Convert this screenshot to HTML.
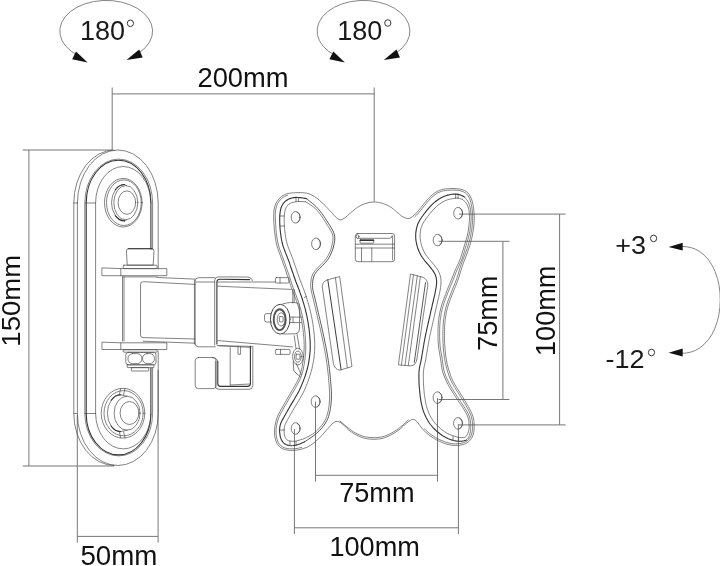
<!DOCTYPE html>
<html><head><meta charset="utf-8">
<style>
html,body{margin:0;padding:0;background:#fff;}
body{width:720px;height:566px;overflow:hidden;}
svg{display:block;will-change:transform;}
text{font-family:"Liberation Sans",sans-serif;fill:#111;}
.dim{stroke:#777;stroke-width:1;fill:none;}
.ln{stroke:#484848;stroke-width:0.68;fill:none;stroke-linecap:round;stroke-linejoin:round;}
.tk{stroke:#333;stroke-width:1.1;fill:none;stroke-linecap:round;stroke-linejoin:round;}
.arc{stroke:#777;stroke-width:0.9;fill:none;}
.lt{fill:#1a1a1a;}
</style></head><body>
<svg width="720" height="566" viewBox="0 0 720 566">
<rect width="720" height="566" fill="#fff"/>

<!-- DIMENSIONS -->
<g class="dim" id="dims">
<path d="M112.2 87.5V150"/><path d="M374.2 87.5V201.6"/><path d="M112.2 93.9H374.2"/>
<path d="M22.7 150H112"/><path d="M22.7 466H114"/><path d="M28.9 150V466"/>
<path d="M77.3 415V542.6"/><path d="M158.1 370V542.6"/><path d="M77.3 536.4H158.1"/>
<path d="M315.5 401.6V481.6"/><path d="M437.5 398V481.6"/><path d="M315.5 475.3H437.5"/>
<path d="M294.4 429V534"/><path d="M458.4 424V534"/><path d="M294.4 527.8H458.4"/>
<path d="M438.5 241.3H509.4"/><path d="M438.5 399.5H509.4"/><path d="M502.9 241.3V399.5"/>
<path d="M459 214.1H565.6"/><path d="M459 424.9H565.6"/><path d="M559.6 214.1V424.9"/>
</g>

<!-- TEXT -->
<g id="labels">
<text transform="translate(243,86.6) scale(1.02,1)" font-size="26.8" text-anchor="middle">200mm</text>
<text transform="translate(118.9,565.3) scale(1.035,1)" font-size="26.8" text-anchor="middle">50mm</text>
<text transform="translate(376.8,502.4) scale(1.012,1)" font-size="26.8" text-anchor="middle">75mm</text>
<text transform="translate(374.6,556.0) scale(1.012,1)" font-size="26.8" text-anchor="middle">100mm</text>
<text transform="translate(20.3,300.8) rotate(-90) scale(1.05,1)" font-size="26.2" text-anchor="middle">150mm</text>
<text transform="translate(496.5,313.3) rotate(-90) scale(0.985,1)" font-size="27.5" text-anchor="middle">75mm</text>
<text transform="translate(555.4,310.8) rotate(-90) scale(0.988,1)" font-size="27.5" text-anchor="middle">100mm</text>
<text class="lt" transform="translate(80.0,39.9) scale(0.965,1)" font-size="28">180</text>
<text class="lt" transform="translate(337.2,39.9) scale(0.965,1)" font-size="28">180</text>
<text class="lt" transform="translate(615.2,253.9) scale(1.08,1)" font-size="25">+3</text>
<text class="lt" transform="translate(605.4,367.8) scale(1.08,1)" font-size="25">-12</text>
</g>
<g fill="none" stroke="#222" stroke-width="0.9">
<ellipse cx="130.4" cy="23.3" rx="3.1" ry="3.3"/>
<ellipse cx="387.8" cy="23.0" rx="3.1" ry="3.3"/>
<ellipse cx="653.6" cy="238.4" rx="3.1" ry="3.3"/>
<ellipse cx="651.5" cy="352.5" rx="3.1" ry="3.3"/>
</g>

<!-- ROTATION ARROWS -->
<g id="rot">
<path class="arc" d="M78 55.5 A46.4 30.7 0 1 1 139.5 52.5"/>
<path d="M76 51.5L72.1 59.3L87.6 62.6Z" fill="#111"/>
<path d="M139.2 49.6L142.7 57.4L126.5 59.9Z" fill="#111"/>
<g transform="translate(257.3,0)">
<path class="arc" d="M78 55.5 A46.4 30.7 0 1 1 139.5 52.5"/>
<path d="M76 51.5L72.1 59.3L87.6 62.6Z" fill="#111"/>
<path d="M139.2 49.6L142.7 57.4L126.5 59.9Z" fill="#111"/>
</g>
<path class="arc" d="M682 246.5 C733 246 733 353 682 353.3"/>
<path d="M668.6 246.9L682.7 242.7L682.7 250.6Z" fill="#111"/>
<path d="M668.6 352.8L682.7 348.6L682.7 356.5Z" fill="#111"/>
</g>

<!-- MOUNT -->
<g id="mount">
<path class="ln" d="M114.2 150 A40.4 53 0 0 0 73.8 203.0 V413.5 A40.4 52 0 0 0 114.2 465.5"/>
<path class="ln" d="M77.4 203.0 A40.4 53 0 0 1 158.2 203.0 V269"/>
<path class="ln" d="M77.4 203.0 V413.5 A40.4 52 0 0 0 158.2 413.5 V351"/>
<path class="ln" d="M73.8 203.0 H77.4 M85.5 203.0 H95.6 M73.8 413.5 H77.4 M85.5 413.5 H95.6"/>
<path class="ln" d="M84.8 413.5 V203.0 A33.9 43.9 0 0 1 152.6 203.0 V249"/>
<path class="tk" d="M86.2 413.5 V203.0 A32.35 42.8 0 0 1 150.9 203.0 V249"/>
<path class="ln" d="M84.8 413.5 A33.9 42.4 0 0 0 152.6 413.5 V368"/>
<path class="tk" d="M86.2 413.5 A32.35 41.4 0 0 0 150.9 413.5 V368"/>
<path class="ln" d="M95.6 413.5 V203.0 A27.65 36.5 0 0 1 150.9 203.0"/>
<path class="ln" d="M95.6 413.5 A27.65 35.4 0 0 0 150.9 413.5"/>
<ellipse class="ln" cx="123.3" cy="202.7" rx="18.8" ry="24.3"/>
<ellipse class="ln" cx="123.9" cy="202.7" rx="17.4" ry="22.8"/>
<path class="ln" d="M124.5 184.5 A13 18.2 0 0 0 124.5 220.9"/>
<path class="ln" d="M124.5 184.5 L126.5 185.6 M124.5 220.9 L126.5 219.8"/>
<ellipse class="ln" cx="125.8" cy="202.7" rx="12.0" ry="17.1"/>
<path class="tk" d="M124.5 184.5 A13 18.2 0 0 0 115.3 189.8"/>
<path class="tk" d="M124.5 220.9 A13 18.2 0 0 1 115.3 215.6"/>
<ellipse class="ln" cx="126.9" cy="202.6" rx="8.8" ry="11.7"/>
<ellipse class="ln" cx="123.0" cy="413.2" rx="21.8" ry="24.9"/>
<ellipse class="ln" cx="123.6" cy="413.2" rx="19.6" ry="22.6"/>
<path class="ln" d="M120.4 394.8 A13 18.4 0 0 0 120.4 431.6"/>
<path class="ln" d="M120.4 394.8 L127.1 396.2 M120.4 431.6 L127.1 430.2"/>
<ellipse class="ln" cx="127.1" cy="413.2" rx="13.0" ry="17.0"/>
<path class="tk" d="M120.4 394.8 A13 18.4 0 0 0 111.2 400.2"/>
<path class="tk" d="M120.4 431.6 A13 18.4 0 0 1 111.2 426.2"/>
<ellipse class="ln" cx="129.5" cy="413.0" rx="9.4" ry="11.5"/>
<path class="ln" d="M120.6 388.6 L119.4 394.8 M125 388.4 L123.6 394.6 M119.4 431.8 L120.6 437.8 M123.6 431.8 L125 437.9"/>
<path class="ln" d="M127.2 264.7 L126.4 251 Q126.4 248.6 129 248.6 H151.4 Q154 248.6 154 251 L153.2 264.7 Z" fill="#fff"/>
<path class="tk" d="M128.5 248.7 H152"/>
<rect class="ln" x="123.2" y="265.2" width="33.9" height="3.4" rx="0.8" fill="#fff"/>
<path class="ln" d="M102.3 267.9 L120.8 268.6 H166.8 V275.7 H102.3 Z" fill="#fff"/>
<path class="ln" d="M120.8 268.6 V275.7"/>
<path class="ln" d="M122.5 276.9 H157.1"/>
<path class="ln" d="M122.5 276.9 V341 M124 276.9 V341"/>
<path class="ln" d="M195 284.4 L143.5 281.7 Q140.5 281.5 140.5 284.5 V335 Q140.5 337.5 143 337.6 L195 339"/>
<path class="ln" d="M157.1 277.5 L195 279.1"/>
<path class="ln" d="M143 341.2 L195 343.2"/>
<path class="ln" d="M102.3 342.2 L120.8 342.8 H166.8 V349.5 H102.3 Z" fill="#fff"/>
<path class="ln" d="M120.8 342.8 V349.5"/>
<rect class="ln" x="123.2" y="349.8" width="33.9" height="2.4" rx="0.8" fill="#fff"/>
<rect class="ln" x="125.8" y="352.4" width="30.2" height="12.4" rx="2.5"/>
<rect class="ln" x="128.0" y="353.6" width="13.8" height="10.0" rx="4.5"/>
<rect class="ln" x="142.6" y="353.6" width="11.8" height="10.0" rx="4.5"/>
<rect class="ln" x="127.2" y="364.8" width="26.8" height="2.8" rx="0.5"/>
<rect class="ln" x="131.4" y="367.6" width="17.3" height="3.4" rx="0.5"/>
<path class="ln" d="M214.7 277.7 H199 Q195.2 277.7 195.2 281 V343.5 Q195.2 346.6 198.5 346.8 H215.4"/>
<path class="ln" d="M196.4 282 H214.7"/>
<path class="ln" d="M194.4 280 V344"/>
<path class="ln" d="M214.7 345 V280.5 Q214.7 277 218 276.9 L247 277 Q251.8 277.2 252.3 280.6"/>
<path class="tk" d="M216.9 344 V282 Q216.9 279.2 220 279.2 L249.5 279.6"/>
<path class="ln" d="M217.5 282 H275.4"/>
<path class="ln" d="M217.5 286.2 L291 289.4"/>
<path class="ln" d="M218.2 340.6 L292.5 346.9"/>
<path class="ln" d="M217.2 345.6 L251.4 346.4"/>
<rect class="ln" x="275.4" y="277.6" width="13.5" height="5.4" rx="1.0"/>
<path class="ln" d="M280 277.6 V283"/>
<rect class="ln" x="275.4" y="349.4" width="14.6" height="5.0" rx="1.0"/>
<path class="ln" d="M280.5 349.4 V354.4"/>
<rect class="ln" x="195.2" y="357.5" width="21.0" height="31.1" rx="3.2"/>
<path class="ln" d="M252.8 346.2 V385.5 Q252.8 389.3 249 389.3 H219 Q215.4 389.3 215.4 386 V361"/>
<path class="tk" d="M250.4 346.2 V383.5 Q250.4 386.4 247.5 386.4 H220.5 Q217.8 386.4 217.8 383.8 V361.5"/>
<path class="ln" d="M230.2 347.6 V385"/>
<path class="ln" d="M230.2 385 L250 384"/>
<path class="ln" d="M238 346.3 V354.2 H240.6 V346.6"/>
<path class="ln" d="M212.5 357.6 Q217.6 357.8 217.8 362"/>
<path class="ln" d="M219 345.8 L251 347.4"/>
<path class="ln" d="M292.8 289.5 V303 M294.2 289.6 V302.6"/>
<ellipse class="ln" cx="280.2" cy="319.2" rx="9.8" ry="14.9" fill="#fff" style="stroke-width:1"/>
<path class="ln" d="M282.6 303.9 Q291 301.5 297.6 303 Q299.5 304 299.5 308 V329 Q299.5 333 296 333.8 L283 334"/>
<ellipse class="ln" cx="279.7" cy="319.7" rx="6.0" ry="10.4" style="stroke:#555;stroke-width:1.9"/>
<ellipse class="ln" cx="281.2" cy="319.4" rx="4.0" ry="6.6"/>
<rect class="ln" x="279.4" y="316.6" width="3.7" height="5.2" rx="0.6"/>
<path class="ln" d="M271.4 313.6 H266.5 Q264.5 313.6 264.5 315.8 V319.8 Q264.5 322 266.5 322 H271.6"/>
<path class="ln" d="M289.8 317.1 H301.5 M289.6 322.6 H301.5 M293 317.1 V322.6"/>
<ellipse class="ln" cx="297.9" cy="356.6" rx="5.3" ry="8.4" fill="#fff"/>
<ellipse class="ln" cx="297.9" cy="356.6" rx="3.4" ry="5.6"/>
<rect class="ln" x="296.1" y="354.2" width="3.8" height="5.0" rx="0.5"/>
<path class="ln" d="M294.2 335.8 L296 348.6 M297 334 L299.6 349"/>
<path class="ln" d="M293.2 361.4 L293.8 371 L300.5 377 M296 363 L301.5 375"/>
<path class="ln" d="M340.6 219.9 L342.2 219.4 L344.1 218.4 L345.8 217.2 L347.3 215.8 L348.9 214.4 L350.6 212.9 L352.2 211.5 L353.9 210.1 L355.6 208.7 L357.4 207.4 L359.2 206.3 L361.0 205.3 L362.9 204.5 L364.8 203.7 L366.8 203.1 L368.9 202.6 L371.0 202.2 L373.1 202.0 L375.3 202.0 L377.4 202.2 L379.5 202.6 L381.6 203.1 L383.6 203.7 L385.5 204.5 L387.4 205.3 L389.3 206.3 L391.2 207.4 L392.9 208.7 L394.7 210.2 L396.3 211.6 L398.0 213.0 L399.8 214.5 L401.6 216.0 L403.6 217.2 L405.8 218.1 L407.9 218.5 L410.1 218.1 L412.2 216.9 L413.8 215.5 L415.4 213.9 L416.9 212.3 L418.3 210.7 L419.6 209.1 L420.9 207.5 L422.2 205.9 L423.5 204.3 L424.8 202.7 L426.2 201.0 L427.6 199.4 L429.1 197.8 L430.6 196.3 L432.2 194.9 L433.9 193.5 L435.7 192.3 L437.5 191.2 L439.4 190.4 L441.3 189.7 L443.4 189.2 L445.4 188.9 L447.6 188.7 L449.7 188.6 L451.9 188.5 L454.1 188.5 L456.3 188.6 L458.4 188.8 L460.5 189.2 L462.6 189.7 L464.5 190.5 L466.3 191.6 L467.8 192.8 L469.1 194.4 L470.1 196.1 L471.0 198.0 L471.8 199.9 L472.4 202.0 L472.9 204.1 L473.3 206.2 L473.6 208.3 L473.8 210.4 L474.0 212.5 L474.2 214.6 L474.2 216.6 L474.3 218.7 L474.2 220.7 L474.1 222.7 L473.9 224.8 L473.7 226.8 L473.4 228.9 L473.1 230.9 L472.8 233.0 L472.4 235.0 L472.0 237.1 L471.5 239.2 L471.0 241.2 L470.5 243.2 L469.9 245.2 L469.2 247.2 L468.6 249.1 L467.9 251.1 L467.2 253.0 L466.5 255.0 L465.7 256.9 L465.0 258.9 L464.2 260.9 L463.5 262.9 L462.8 264.9 L462.1 266.9 L461.4 268.9 L460.8 270.9 L460.2 272.9 L459.6 274.9 L459.0 276.9 L458.3 278.9 L457.6 280.8 L456.9 282.7 L456.2 284.6 L455.4 286.5 L454.6 288.4 L453.8 290.3 L453.1 292.2 L452.3 294.1 L451.6 296.0 L450.9 297.9 L450.1 299.8 L449.4 301.7 L448.8 303.6 L448.2 305.5 L447.6 307.4 L447.1 309.3 L446.6 311.3 L446.2 313.3 L445.9 315.4 L445.5 317.4 L445.3 319.4 L445.0 321.4 L444.9 323.4 L444.7 325.5 L444.6 327.5 L444.6 329.6 L444.5 331.6 L444.5 333.6 L444.5 335.6 L444.5 337.7 L444.5 339.7 L444.6 341.7 L444.7 343.8 L444.8 345.8 L444.9 347.8 L445.1 349.8 L445.3 351.9 L445.5 354.0 L445.8 356.0 L446.1 358.1 L446.5 360.1 L446.8 362.1 L447.2 364.1 L447.7 366.0 L448.2 368.0 L448.8 369.9 L449.4 371.8 L450.0 373.6 L450.6 375.5 L451.3 377.4 L452.2 379.3 L453.0 381.2 L454.0 383.0 L455.0 384.8 L456.1 386.6 L457.2 388.4 L458.4 390.2 L459.6 392.1 L460.7 393.9 L461.9 395.8 L463.0 397.6 L464.1 399.4 L465.3 401.3 L466.3 403.1 L467.4 404.9 L468.4 406.6 L469.4 408.5 L470.4 410.4 L471.3 412.3 L472.1 414.2 L472.8 416.2 L473.4 418.1 L473.8 420.2 L474.0 422.3 L474.2 424.4 L474.2 426.4 L474.2 428.5 L474.0 430.7 L473.6 432.8 L473.1 434.8 L472.3 436.8 L471.4 438.5 L470.2 440.1 L468.8 441.5 L467.2 442.7 L465.5 443.7 L463.6 444.4 L461.6 444.9 L459.6 445.2 L457.5 445.4 L455.4 445.5 L453.2 445.3 L451.0 445.1 L448.8 444.7 L446.7 444.1 L444.6 443.5 L442.6 442.7 L440.6 441.8 L438.6 440.9 L436.7 439.9 L434.7 438.8 L432.8 437.7 L431.0 436.4 L429.2 435.2 L427.6 433.9 L426.0 432.6 L424.6 431.2 L423.2 429.7 L421.8 428.1 L420.5 426.4 L419.2 424.6 L418.0 422.9 L416.6 421.3 L415.0 420.0 L413.2 419.3 L411.7 419.5 L410.1 420.6 L408.2 421.9 L406.4 423.2 L404.9 424.6 L403.4 426.1 L401.8 427.5 L400.2 428.9 L398.6 430.1 L396.9 431.3 L395.1 432.5 L393.3 433.6 L391.6 434.6 L389.8 435.5 L388.0 436.4 L386.1 437.2 L384.2 437.9 L382.2 438.4 L380.3 438.8 L378.2 439.0 L376.2 439.2 L374.1 439.3 L372.0 439.2 L369.8 439.1 L367.6 438.8 L365.4 438.4 L363.2 437.9 L361.1 437.2 L359.1 436.3 L357.1 435.4 L355.1 434.4 L353.3 433.3 L351.6 432.1 L349.9 430.9 L348.3 429.6 L346.7 428.2 L345.1 426.6 L343.5 425.0 L342.0 423.5 L340.0 422.3 L337.8 421.4 L336.0 421.4 L334.2 422.3 L332.6 423.5 L331.2 424.9 L329.8 426.5 L328.4 428.1 L327.0 429.6 L325.6 431.2 L324.2 432.8 L322.8 434.4 L321.4 435.9 L319.9 437.4 L318.4 438.9 L316.8 440.3 L315.3 441.7 L313.7 443.0 L312.1 444.2 L310.4 445.4 L308.7 446.4 L306.9 447.3 L305.0 448.0 L303.1 448.6 L301.1 449.2 L299.1 449.7 L297.0 450.0 L294.9 450.3 L292.9 450.4 L290.8 450.4 L288.7 450.3 L286.7 450.0 L284.8 449.6 L282.8 448.8 L281.0 447.8 L279.3 446.5 L277.9 444.9 L276.8 443.1 L276.0 441.2 L275.4 439.2 L274.9 437.1 L274.6 435.1 L274.5 433.2 L274.5 431.2 L274.6 429.1 L274.8 427.1 L275.1 425.1 L275.5 423.1 L276.0 421.0 L276.6 418.9 L277.4 416.9 L278.2 415.0 L279.1 413.2 L280.0 411.5 L280.9 409.8 L282.0 408.0 L283.0 406.1 L284.1 404.3 L285.1 402.5 L286.2 400.7 L287.2 398.8 L288.3 397.0 L289.4 395.1 L290.5 393.1 L291.6 391.2 L292.7 389.3 L293.8 387.5 L294.8 385.7 L295.7 384.1 L296.7 382.4 L297.6 380.7 L298.4 379.0 L299.1 377.4 L299.7 375.6 L300.3 373.8 L300.9 371.8 L301.5 369.7 L302.0 367.5 L302.4 365.3 L302.7 363.3 L303.0 361.3 L303.3 359.4 L303.5 357.4 L303.7 355.3 L303.9 353.2 L304.0 351.1 L304.1 349.0 L304.2 347.0 L304.2 344.9 L304.1 342.8 L304.0 340.7 L303.9 338.6 L303.7 336.5 L303.5 334.4 L303.3 332.3 L303.1 330.3 L302.8 328.2 L302.5 326.2 L302.2 324.1 L301.9 322.1 L301.6 320.2 L301.2 318.2 L300.8 316.3 L300.3 314.3 L299.9 312.3 L299.3 310.2 L298.8 308.2 L298.2 306.2 L297.6 304.3 L297.0 302.4 L296.3 300.5 L295.6 298.5 L294.9 296.6 L294.1 294.7 L293.3 292.9 L292.6 291.0 L291.9 289.2 L291.3 287.3 L290.7 285.5 L290.1 283.6 L289.5 281.7 L288.8 279.7 L288.2 277.7 L287.5 275.8 L286.8 273.9 L286.2 272.0 L285.5 269.9 L284.8 267.9 L284.1 265.9 L283.3 263.9 L282.7 261.9 L282.0 259.9 L281.2 258.0 L280.5 256.0 L279.8 254.1 L279.0 252.2 L278.3 250.2 L277.7 248.3 L277.1 246.3 L276.6 244.3 L276.1 242.3 L275.8 240.2 L275.4 238.1 L275.1 236.0 L274.9 233.9 L274.6 231.8 L274.4 229.7 L274.2 227.6 L274.1 225.6 L273.9 223.4 L273.8 221.2 L273.7 219.0 L273.7 216.9 L273.7 214.8 L273.8 212.8 L273.9 210.9 L274.2 208.9 L274.7 206.9 L275.3 204.9 L276.1 203.1 L277.1 201.4 L278.3 199.7 L279.8 198.1 L281.4 196.6 L283.1 195.4 L285.0 194.5 L287.0 193.8 L289.1 193.3 L291.3 193.0 L293.5 192.8 L295.7 192.7 L298.0 192.6 L300.2 192.6 L302.5 192.7 L304.6 192.9 L306.8 193.2 L308.9 193.8 L310.9 194.6 L312.8 195.6 L314.6 196.7 L316.4 197.9 L318.1 199.2 L319.7 200.6 L321.3 201.9 L322.7 203.3 L324.2 204.8 L325.7 206.2 L327.1 207.7 L328.6 209.3 L330.0 210.8 L331.5 212.4 L332.9 214.1 L334.3 215.6 L335.7 217.1 L337.2 218.4 L339.0 219.5 L339.9 219.8Z" fill="#fff"/>
<path class="ln" d="M414.9 216.7 L416.5 215.1 L418.1 213.4 L419.5 211.8 L420.9 210.1 L422.2 208.5 L423.4 206.9 L424.7 205.3 L426.0 203.7 L427.4 202.1 L428.8 200.5 L430.2 198.9 L431.7 197.5 L433.2 196.1 L434.9 194.8 L436.5 193.6 L438.2 192.6 L440.0 191.9 L441.8 191.2 L443.7 190.8 L445.6 190.5 L447.7 190.3 L449.8 190.2 L451.9 190.1 L454.1 190.1 L456.2 190.2 L458.2 190.4 L460.2 190.7 L462.1 191.3 L463.8 192.0 L465.3 192.9 L466.6 194.0 L467.8 195.3 L468.8 196.9 L469.6 198.6 L470.3 200.5 L470.8 202.4 L471.3 204.5 L471.7 206.5 L472.0 208.5 L472.3 210.6 L472.4 212.6 L472.6 214.7 L472.6 216.7 L472.7 218.7 L472.6 220.6 L472.5 222.6 L472.3 224.6 L472.1 226.6 L471.9 228.7 L471.5 230.7 L471.2 232.7 L470.8 234.7 L470.4 236.8 L470.0 238.8 L469.5 240.8 L468.9 242.8 L468.3 244.7 L467.7 246.7 L467.1 248.6 L466.4 250.5 L465.7 252.5 L465.0 254.4 L464.2 256.4 L463.5 258.4 L462.7 260.4 L462.0 262.4 L461.2 264.4 L460.5 266.4 L459.9 268.4 L459.3 270.4 L458.7 272.4 L458.1 274.4 L457.5 276.4 L456.8 278.4 L456.1 280.3 L455.4 282.2 L454.7 284.0 L453.9 285.9 L453.1 287.8 L452.3 289.7 L451.6 291.6 L450.8 293.5 L450.1 295.4 L449.4 297.3 L448.6 299.2 L447.9 301.1 L447.3 303.1 L446.6 305.0 L446.1 307.0 L445.5 309.0 L445.1 311.0 L444.6 313.0 L444.3 315.1 L444.0 317.1 L443.7 319.2 L443.4 321.2 L443.3 323.3 L443.1 325.4 L443.0 327.5 L443.0 329.6 L442.9 331.6 L442.9 333.6 L442.9 335.6 L442.9 337.7 L442.9 339.7 L443.0 341.8 L443.1 343.8 L443.2 345.9 L443.3 347.9 L443.5 350.0 L443.7 352.1 L444.0 354.2 L444.2 356.2 L444.5 358.3 L444.9 360.3 L445.3 362.4 L445.7 364.4 L446.2 366.4 L446.7 368.4 L447.3 370.3 L447.8 372.3 L448.5 374.2 L449.1 376.1 L449.9 378.0 L450.7 380.0 L451.6 381.9 L452.6 383.8 L453.6 385.6 L454.7 387.4 L455.9 389.3 L457.1 391.1 L458.2 392.9 L459.4 394.8 L460.5 396.6 L461.6 398.4 L462.8 400.2 L463.9 402.1 L465.0 403.9 L466.0 405.7 L467.0 407.4 L468.0 409.2 L469.0 411.1 L469.9 413.0 L470.7 414.8 L471.3 416.6 L471.8 418.5 L472.2 420.4 L472.4 422.4 L472.6 424.4 L472.6 426.4 L472.6 428.4 L472.4 430.4 L472.0 432.4 L471.6 434.3 L470.9 436.1 L470.0 437.7 L469.0 439.1 L467.8 440.3 L466.4 441.4 L464.8 442.2 L463.1 442.8 L461.3 443.3 L459.4 443.6 L457.4 443.8 L455.4 443.9 L453.3 443.8 L451.3 443.5 L449.2 443.1 L447.1 442.6 L445.1 441.9 L443.2 441.2 L441.2 440.4 L439.3 439.5 L437.4 438.5 L435.5 437.4 L433.7 436.3 L431.9 435.1 L430.2 433.9 L428.6 432.7 L427.1 431.4 L425.7 430.1 L424.4 428.7"/>
<path class="ln" d="M301.7 447.4 L299.7 447.9 L297.7 448.3 L295.8 448.6 L293.8 448.8 L291.8 448.8 L289.8 448.8 L287.9 448.6 L286.1 448.3 L284.4 447.8 L282.7 447.0 L281.1 445.9 L279.8 444.6 L278.7 443.2 L277.8 441.5 L277.2 439.7 L276.7 437.8 L276.3 435.9 L276.1 434.0 L276.1 432.1 L276.1 430.2 L276.2 428.3 L276.5 426.4 L276.8 424.5 L277.2 422.5 L277.8 420.5 L278.5 418.4 L279.3 416.5 L280.1 414.8 L280.9 413.1 L281.9 411.4 L282.8 409.6 L283.9 407.8 L284.9 406.0 L286.0 404.2 L287.0 402.4 L288.1 400.6 L289.1 398.7 L290.2 396.8 L291.3 394.9 L292.5 393.0 L293.6 391.0 L294.7 389.2 L295.7 387.4 L296.6 385.7 L297.6 384.0 L298.5 382.3 L299.4 380.6 L300.2 378.8 L300.9 377.1 L301.6 375.2 L302.2 373.3 L302.7 371.2 L303.3 369.0 L303.7 366.7 L304.1 364.6 L304.5 362.6 L304.8 360.6 L305.0 358.6 L305.2 356.5 L305.4 354.4 L305.6 352.3 L305.7 350.1 L305.8 348.0 L305.8 345.9 L305.7 343.8 L305.6 341.7 L305.5 339.5 L305.4 337.4 L305.2 335.3 L305.0 333.2 L304.8 331.1 L304.5 329.0 L304.3 327.0 L304.0 324.9 L303.7 322.9 L303.3 320.9 L302.9 318.9 L302.6 316.9 L302.1 314.9 L301.7 312.9 L301.1 310.9 L300.6 308.8 L300.0 306.8 L299.4 304.8 L298.8 302.8 L298.2 300.9 L297.5 299.0 L296.7 297.0 L296.0 295.1 L295.2 293.2 L294.5 291.3 L293.8 289.5 L293.1 287.7 L292.5 285.9 L291.9 284.1 L291.3 282.2 L290.7 280.2 L290.0 278.2 L289.3 276.2 L288.7 274.3 L288.0 272.4 L287.3 270.4 L286.6 268.4 L285.9 266.4 L285.2 264.3 L284.5 262.3 L283.8 260.4 L283.1 258.4 L282.4 256.4 L281.6 254.5 L280.9 252.6 L280.2 250.7 L279.5 248.8 L278.9 246.8 L278.4 244.9 L277.9 242.9 L277.5 240.9 L277.2 238.9 L276.9 236.9 L276.6 234.8 L276.3 232.7 L276.1 230.6 L275.9 228.5 L275.8 226.5 L275.6 224.4 L275.5 222.3 L275.4 220.1 L275.3 217.9 L275.3 215.8 L275.3 213.9 L275.4 212.0 L275.6 210.1 L276.0 208.3 L276.5 206.4 L277.1 204.6 L278.0 203.0 L279.0 201.4 L280.2 199.9 L281.6 198.5 L283.1 197.3 L284.8 196.4 L286.6 195.6 L287.5 195.3"/>
<path class="ln" d="M340.0 421.0 L341.2 422.0 L342.9 423.5 L344.7 425.1 L346.6 426.6 L348.3 428.0 L350.0 429.3 L351.6 430.5 L353.3 431.7 L355.1 432.8 L357.0 433.8 L359.1 434.7 L361.1 435.6 L363.2 436.3 L365.4 436.8 L367.6 437.2 L369.8 437.5 L372.0 437.6 L374.1 437.7 L376.2 437.6 L378.2 437.4 L380.3 437.2 L382.2 436.8 L384.2 436.3 L386.1 435.6 L388.0 434.8 L389.8 433.9 L391.6 433.0 L393.3 432.0 L395.1 430.9 L396.8 429.8 L398.5 428.6 L400.2 427.3 L401.9 425.9 L403.8 424.3 L405.6 422.6 L407.2 421.1 L408.4 420.0"/>
<path class="tk" d="M306.7 198.8 L305.0 198.4 L302.7 198.0 L300.3 197.6 L298.1 197.5 L296.0 197.4 L294.0 197.6 L291.9 198.0 L289.9 198.6 L287.9 199.5 L286.1 200.7 L284.5 202.1 L283.1 203.7 L282.1 205.5 L281.2 207.5 L280.6 209.6 L280.2 211.6 L280.0 213.5 L279.8 215.4 L279.7 217.4 L279.7 219.5 L279.7 221.7 L279.8 223.8 L279.9 225.9 L280.0 227.9 L280.2 230.0 L280.4 232.1 L280.7 234.2 L281.0 236.3 L281.3 238.4 L281.7 240.5 L282.1 242.5 L282.6 244.5 L283.2 246.5 L283.9 248.4 L284.6 250.3 L285.3 252.2 L286.1 254.1 L286.9 256.1 L287.6 258.0 L288.4 260.0 L289.1 261.9 L289.8 263.9 L290.4 265.9 L291.1 268.0 L291.8 270.0 L292.5 272.0 L293.2 273.9 L293.8 275.8 L294.5 277.7 L295.2 279.7 L295.9 281.7 L296.7 283.7 L297.4 285.5 L298.1 287.3 L298.8 289.1 L299.5 291.0 L300.1 292.9 L300.8 294.7 L301.5 296.6 L302.1 298.5 L302.7 300.5 L303.3 302.4 L303.9 304.3 L304.4 306.2 L305.0 308.2 L305.5 310.2 L306.0 312.3 L306.5 314.3 L306.9 316.2 L307.3 318.2 L307.6 320.1 L308.0 322.0 L308.3 324.0 L308.6 326.1 L308.9 328.1 L309.2 330.2 L309.4 332.2 L309.6 334.2 L309.8 336.3 L309.9 338.4 L310.1 340.5 L310.2 342.6 L310.2 344.7 L310.2 346.8 L310.2 348.9 L310.1 351.0 L309.9 353.1 L309.7 355.1 L309.5 357.2 L309.2 359.2 L308.9 361.3 L308.5 363.3 L308.1 365.4 L307.6 367.4 L307.1 369.5 L306.5 371.5 L305.9 373.5 L305.3 375.5 L304.6 377.6 L303.8 379.6 L303.1 381.6 L302.3 383.5 L301.5 385.4 L300.7 387.3 L299.9 389.1 L299.0 391.0 L298.0 392.8 L297.0 394.6 L296.0 396.3 L295.0 398.0 L294.0 399.7 L293.0 401.4 L292.0 403.1 L290.9 404.9 L289.8 406.7 L288.8 408.6 L287.7 410.4 L286.7 412.2 L285.7 413.9 L284.7 415.7 L283.7 417.6 L282.6 419.4 L281.7 421.3 L280.8 423.2 L280.2 425.2 L279.8 427.2 L279.6 429.3 L279.6 431.5 L279.8 433.7 L280.1 435.8 L280.6 437.9 L281.4 439.8 L282.5 441.6 L283.8 443.1 L285.5 444.3 L287.3 445.1 L289.4 445.5 L291.6 445.7 L293.8 445.5 L296.0 445.1 L298.2 444.5 L300.4 443.7 L302.4 442.8 L304.1 442.0 L304.7 441.7"/>
<path class="ln" d="M306.7 198.8 L307.8 199.6 L309.2 200.8 L310.9 202.1 L312.7 203.6 L314.5 205.1 L316.2 206.7 L317.8 208.4 L319.2 210.0 L320.5 211.6 L321.7 213.3 L323.0 215.0 L324.2 216.8 L325.4 218.5 L326.5 220.3 L327.6 222.0 L328.7 223.7 L329.8 225.5 L330.9 227.3 L332.0 229.1 L333.0 230.9 L333.7 232.7 L334.3 234.5 L334.7 236.4 L334.8 238.5 L334.7 240.6 L334.4 242.7 L333.9 244.9 L333.4 247.0 L332.8 249.1 L332.1 251.1 L331.3 253.1 L330.4 255.1 L329.4 257.1 L328.3 258.9 L327.0 260.6 L325.7 262.3 L324.2 263.9 L322.6 265.4 L321.1 267.0 L319.5 268.5 L318.1 270.0 L316.7 271.5 L315.5 273.1 L314.4 274.8 L313.7 276.7 L313.1 278.9 L312.8 281.1 L312.6 283.4 L312.5 285.5 L312.6 287.6 L312.9 289.7 L313.3 291.7 L313.8 293.7 L314.3 295.8 L314.9 298.1 L315.4 300.2 L315.9 302.3 L316.4 304.3 L316.8 306.2 L317.3 308.3 L317.8 310.3 L318.2 312.4 L318.7 314.4 L319.2 316.5 L319.7 318.5 L320.1 320.4 L320.6 322.4 L321.1 324.4 L321.5 326.3 L322.0 328.3 L322.4 330.4 L322.9 332.4 L323.3 334.5 L323.8 336.6 L324.3 338.8 L324.7 341.0 L325.1 343.2 L325.6 345.2 L326.0 347.3 L326.3 349.2 L326.7 351.2 L327.1 353.2 L327.4 355.1 L327.7 356.9 L328.0 358.8 L328.3 360.7 L328.6 362.6 L328.8 364.5 L329.1 366.5 L329.4 368.6 L329.6 370.8 L329.9 373.0 L330.1 375.2 L330.3 377.3 L330.4 379.3 L330.6 381.3 L330.8 383.3 L331.0 385.4 L331.1 387.5 L331.3 389.7 L331.4 391.8 L331.4 393.9 L331.4 395.9 L331.4 398.0 L331.3 400.1 L331.2 402.2 L331.0 404.3 L330.7 406.5 L330.4 408.6 L330.1 410.7 L329.6 412.7 L329.1 414.6 L328.6 416.5 L327.9 418.4 L327.0 420.3 L326.0 422.1 L324.9 423.9 L323.7 425.6 L322.4 427.3 L321.1 428.9 L319.7 430.4 L318.2 431.9 L316.5 433.4 L314.8 434.8 L312.9 436.2 L311.0 437.6 L309.1 438.8 L307.3 440.0 L305.8 441.0 L304.7 441.7" style="stroke:#3a3a3a;stroke-width:0.85"/>
<path class="ln" d="M305.4 201.7 L304.2 201.8 L302.1 201.5 L299.9 201.5 L297.9 201.5 L296.1 201.7 L294.5 202.1 L293.0 202.3 L291.5 202.8 L290.1 203.4 L288.8 204.3 L287.7 205.2 L286.8 206.3 L286.1 207.6 L285.5 209.1 L285.0 210.7 L284.7 212.3 L284.5 214.0 L284.3 215.7 L284.2 217.6 L284.2 219.6 L284.2 221.6 L284.3 223.6 L284.4 225.6 L284.5 227.6 L284.7 229.6 L284.9 231.6 L285.1 233.6 L285.4 235.6 L285.7 237.6 L286.1 239.6 L286.5 241.5 L287.0 243.3 L287.5 245.1 L288.1 246.9 L288.8 248.7 L289.5 250.6 L290.3 252.5 L291.1 254.4 L291.8 256.4 L292.6 258.4 L293.3 260.4 L294.0 262.4 L294.7 264.5 L295.4 266.5 L296.1 268.5 L296.8 270.5 L297.4 272.5 L298.1 274.3 L298.7 276.2 L299.4 278.1 L300.1 280.1 L300.9 282.1 L301.6 283.9 L302.3 285.7 L303.0 287.6 L303.7 289.4 L304.4 291.3 L305.1 293.2 L305.7 295.2 L306.4 297.1 L307.0 299.1 L307.6 301.1 L308.2 303.0 L308.8 305.0 L309.3 307.1 L309.9 309.1 L310.4 311.2 L310.8 313.3 L311.3 315.3 L311.7 317.3 L312.1 319.2 L312.4 321.2 L312.8 323.3 L313.1 325.4 L313.4 327.6 L313.6 329.7 L313.9 331.8 L314.1 333.8 L314.3 335.9 L314.4 338.0 L314.6 340.2 L314.7 342.4 L314.7 344.7 L314.7 346.9 L314.7 349.1 L314.6 351.3 L314.4 353.5 L314.2 355.6 L314.0 357.8 L313.7 359.9 L313.3 362.1 L312.9 364.2 L312.4 366.4 L312.0 368.5 L311.4 370.6 L310.8 372.7 L310.2 374.8 L309.5 376.9 L308.8 379.0 L308.1 381.1 L307.3 383.2 L306.5 385.2 L305.7 387.1 L304.9 389.1 L304.0 391.0 L303.0 393.0 L302.0 395.0 L301.0 396.8 L299.9 398.6 L298.9 400.4 L297.9 402.0 L296.8 403.7 L295.8 405.4 L294.8 407.2 L293.7 409.0 L292.6 410.8 L291.6 412.6 L290.6 414.4 L289.6 416.2 L288.6 417.9 L287.6 419.7 L286.6 421.5 L285.7 423.2 L285.1 424.8 L284.6 426.3 L284.3 427.8 L284.1 429.6 L284.1 431.4 L284.2 433.2 L284.5 434.9 L284.9 436.4 L285.4 437.8 L286.1 438.9 L286.8 439.8 L287.7 440.3 L288.7 440.8 L290.0 441.0 L291.6 441.2 L293.3 441.3 L295.1 441.2 L297.0 440.8 L299.0 440.3 L301.0 439.6 L302.6 439.1 L303.7 438.8 L305.0 438.2 L306.8 437.3 L308.7 436.3 L310.7 435.2 L312.7 434.0 L314.5 432.7 L316.2 431.3 L317.7 429.9 L319.1 428.4 L320.4 426.9 L321.7 425.4 L322.9 423.8 L324.0 422.1 L324.9 420.4 L325.8 418.6 L326.5 416.8 L327.1 415.0 L327.7 413.2 L328.1 411.3 L328.5 409.3 L328.8 407.3 L329.1 405.2 L329.3 403.1 L329.4 401.0 L329.6 398.9 L329.6 396.9 L329.6 394.9 L329.6 392.9 L329.5 390.8 L329.4 388.7 L329.2 386.6 L329.1 384.5 L328.9 382.5 L328.7 380.5 L328.6 378.5 L328.4 376.4 L328.2 374.3 L327.9 372.1 L327.7 369.9 L327.4 367.8 L327.2 365.8 L326.9 363.8 L326.7 362.0 L326.4 360.0 L326.1 358.1 L325.8 356.3 L325.5 354.4 L325.1 352.5 L324.8 350.6 L324.4 348.6 L324.0 346.6 L323.6 344.6 L323.2 342.4 L322.7 340.3 L322.3 338.1 L321.8 335.9 L321.4 333.8 L320.9 331.8 L320.5 329.7 L320.0 327.7 L319.5 325.7 L319.1 323.8 L318.6 321.8 L318.1 319.9 L317.7 317.9 L317.2 315.9 L316.7 313.8 L316.3 311.8 L315.8 309.7 L315.3 307.6 L314.8 305.6 L314.4 303.7 L313.9 301.7 L313.4 299.6 L312.8 297.4 L312.3 295.2 L311.8 293.1 L311.3 291.0 L311.0 288.9 L310.7 286.7 L310.7 284.4 L310.9 282.1 L311.1 279.7 L311.6 277.3 L312.4 275.0 L313.4 273.0 L314.7 271.2 L316.1 269.5 L317.5 268.0 L319.0 266.5 L320.6 264.9 L322.1 263.4 L323.6 261.9 L325.0 260.3 L326.2 258.7 L327.3 257.0 L328.3 255.3 L329.3 253.4 L330.1 251.4 L330.8 249.5 L331.4 247.5 L331.9 245.5 L332.4 243.4 L332.8 241.4 L333.0 239.4 L333.0 237.5 L332.8 235.8 L332.4 234.1 L331.7 232.5 L330.9 230.8 L329.9 229.1 L328.8 227.4 L327.7 225.6 L326.6 223.8 L325.5 222.1 L324.4 220.4 L323.3 218.6 L322.1 216.9 L320.9 215.2 L319.7 213.5 L318.4 211.9 L317.1 210.4 L315.7 208.8 L313.9 207.4 L312.1 206.0 L310.2 204.7 L308.4 203.5 L306.6 202.4 L305.7 201.9Z"/>
<path class="ln" d="M279.8 216 H284.3 M279.9 226 H284.3 M304.4 297.4 L306.4 296.4 M279.9 430 H284.6 M296 197.5 V201.6 M298.4 197.5 V201.6 M290 445.2 V441 M296 445.6 V441.4"/>
<path class="tk" d="M464.4 197.0 L462.8 196.1 L460.5 195.0 L458.3 194.4 L456.1 194.1 L454.0 194.1 L451.8 194.3 L449.7 194.7 L447.8 195.1 L445.8 195.7 L443.9 196.4 L442.1 197.3 L440.3 198.3 L438.6 199.3 L436.9 200.5 L435.2 201.8 L433.6 203.2 L432.0 204.6 L430.6 206.1 L429.2 207.6 L427.9 209.1 L426.6 210.7 L425.3 212.4 L424.0 214.0 L422.8 215.7 L421.5 217.5 L420.3 219.3 L419.3 221.1 L418.3 223.0 L417.5 224.8 L416.9 226.8 L416.4 228.8 L416.1 230.7 L415.8 232.8 L415.7 234.9 L415.7 237.0 L415.8 239.2 L416.1 241.4 L416.5 243.5 L417.0 245.6 L417.6 247.7 L418.4 249.7 L419.2 251.7 L420.1 253.6 L421.1 255.5 L422.2 257.3 L423.5 259.0 L424.8 260.8 L426.2 262.5 L427.7 264.1 L429.2 265.8 L430.6 267.6 L431.9 269.3 L433.2 271.1 L434.3 272.9 L435.3 274.7 L436.0 276.7 L436.4 278.8 L436.6 280.8 L436.6 282.9 L436.4 285.0 L436.2 287.1 L435.8 289.1 L435.5 291.0 L435.1 292.9 L434.7 294.8 L434.2 296.8 L433.7 298.9 L433.3 301.0 L432.8 303.0 L432.3 304.9 L431.9 306.9 L431.4 309.0 L430.9 311.0 L430.5 313.2 L430.0 315.3 L429.5 317.4 L429.0 319.5 L428.6 321.5 L428.1 323.5 L427.7 325.4 L427.2 327.4 L426.8 329.4 L426.4 331.4 L425.9 333.4 L425.5 335.4 L425.1 337.4 L424.7 339.4 L424.3 341.5 L423.9 343.7 L423.6 345.9 L423.2 348.1 L422.8 350.3 L422.5 352.4 L422.1 354.5 L421.8 356.5 L421.5 358.4 L421.1 360.4 L420.7 362.4 L420.2 364.4 L419.8 366.2 L419.4 368.0 L419.2 369.9 L419.0 371.8 L418.9 373.8 L418.9 375.8 L418.9 377.9 L419.0 379.9 L419.0 382.0 L419.1 384.1 L419.2 386.1 L419.4 388.2 L419.6 390.3 L419.8 392.3 L420.0 394.3 L420.2 396.3 L420.5 398.3 L420.8 400.3 L421.2 402.3 L421.5 404.2 L422.0 406.2 L422.5 408.1 L423.0 410.0 L423.7 411.9 L424.4 413.8 L425.2 415.6 L426.1 417.5 L427.1 419.3 L428.1 421.1 L429.2 422.8 L430.4 424.5 L431.7 426.0 L433.0 427.6 L434.5 429.0 L435.9 430.4 L437.4 431.8 L439.0 433.0 L440.6 434.3 L442.3 435.5 L444.1 436.6 L445.9 437.6 L447.7 438.5 L449.6 439.2 L451.6 439.9 L453.6 440.5 L455.6 440.9 L457.6 441.1 L459.6 441.2 L461.8 441.1 L464.0 440.7 L465.8 440.2 L466.4 440.0"/>
<path class="ln" d="M464.4 197.0 L465.4 198.1 L466.8 199.8 L468.0 201.6 L468.9 203.6 L469.6 205.6 L470.2 207.7 L470.6 209.9 L470.8 212.1 L471.0 214.2 L471.1 216.4 L471.1 218.6 L471.0 220.8 L470.8 223.0 L470.6 225.1 L470.4 227.2 L470.1 229.4 L469.8 231.5 L469.4 233.6 L468.9 235.6 L468.4 237.6 L467.9 239.5 L467.3 241.5 L466.7 243.4 L466.1 245.4 L465.5 247.4 L464.9 249.3 L464.4 251.3 L463.8 253.3 L463.1 255.3 L462.5 257.3 L461.9 259.2 L461.1 261.0 L460.3 262.9 L459.5 264.7 L458.7 266.5 L457.8 268.3 L457.0 270.1 L456.2 271.9 L455.4 273.8 L454.7 275.8 L453.9 277.8 L453.1 279.8 L452.3 281.7 L451.6 283.5 L450.8 285.4 L450.0 287.3 L449.2 289.2 L448.4 291.2 L447.7 293.1 L447.0 295.0 L446.2 296.9 L445.5 298.8 L444.8 300.7 L444.2 302.6 L443.5 304.5 L443.0 306.4 L442.4 308.4 L441.9 310.3 L441.5 312.3 L441.1 314.3 L440.8 316.4 L440.5 318.4 L440.2 320.4 L440.0 322.4 L439.9 324.5 L439.7 326.5 L439.7 328.6 L439.6 330.6 L439.6 332.6 L439.6 334.6 L439.6 336.6 L439.7 338.7 L439.7 340.7 L439.9 342.7 L440.0 344.8 L440.2 346.8 L440.5 348.8 L440.8 350.9 L441.1 352.9 L441.5 355.0 L441.9 357.0 L442.2 359.1 L442.5 361.1 L442.8 363.1 L443.0 365.0 L443.3 367.0 L443.6 368.9 L444.1 370.8 L444.6 372.7 L445.2 374.5 L445.9 376.4 L446.7 378.3 L447.6 380.2 L448.5 382.0 L449.5 383.8 L450.5 385.6 L451.5 387.4 L452.6 389.2 L453.7 391.0 L454.8 392.8 L456.0 394.5 L457.1 396.3 L458.3 398.1 L459.5 399.9 L460.6 401.6 L461.8 403.3 L462.9 405.0 L464.0 406.7 L465.1 408.4 L466.1 410.1 L467.2 411.9 L468.1 413.7 L468.9 415.4 L469.6 417.3 L470.1 419.2 L470.4 421.3 L470.6 423.4 L470.7 425.5 L470.7 427.5 L470.6 429.6 L470.4 431.7 L470.0 433.7 L469.4 435.6 L468.5 437.6 L467.0 439.4 L466.4 440.0"/>
<path class="ln" d="M462.5 199.4 L461.3 199.0 L459.4 198.3 L457.5 198.0 L455.8 198.1 L454.1 198.3 L452.4 198.7 L450.6 199.0 L448.9 199.4 L447.3 199.9 L445.6 200.5 L444.1 201.2 L442.5 202.1 L441.0 203.0 L439.5 204.1 L438.0 205.2 L436.5 206.5 L435.1 207.8 L433.8 209.1 L432.5 210.5 L431.3 212.0 L430.0 213.5 L428.8 215.1 L427.6 216.7 L426.3 218.3 L425.2 220.0 L424.1 221.6 L423.1 223.2 L422.3 224.8 L421.7 226.4 L421.1 228.0 L420.7 229.7 L420.4 231.4 L420.2 233.1 L420.1 235.0 L420.1 236.9 L420.2 238.8 L420.5 240.7 L420.8 242.6 L421.3 244.5 L421.8 246.3 L422.5 248.1 L423.2 249.9 L424.0 251.6 L424.9 253.3 L425.9 254.9 L427.0 256.4 L428.2 258.0 L429.6 259.6 L431.0 261.3 L432.5 263.0 L434.0 264.8 L435.5 266.7 L436.9 268.7 L438.2 270.7 L439.3 273.0 L440.2 275.5 L440.8 278.1 L441.0 280.6 L441.0 283.0 L440.8 285.4 L440.5 287.7 L440.2 289.9 L439.8 291.9 L439.4 293.8 L439.0 295.8 L438.5 297.8 L438.0 299.9 L437.5 302.0 L437.1 304.0 L436.6 305.9 L436.2 307.9 L435.7 309.9 L435.2 312.0 L434.7 314.1 L434.3 316.3 L433.8 318.4 L433.3 320.5 L432.9 322.5 L432.4 324.4 L432.0 326.4 L431.5 328.3 L431.1 330.3 L430.7 332.3 L430.2 334.3 L429.8 336.3 L429.4 338.3 L429.0 340.3 L428.6 342.3 L428.3 344.4 L427.9 346.6 L427.5 348.8 L427.2 351.0 L426.8 353.1 L426.5 355.2 L426.1 357.2 L425.8 359.2 L425.4 361.2 L424.9 363.4 L424.5 365.3 L424.1 367.1 L423.8 368.7 L423.6 370.4 L423.4 372.1 L423.3 373.9 L423.3 375.8 L423.3 377.8 L423.4 379.8 L423.4 381.9 L423.5 383.9 L423.6 385.9 L423.8 387.9 L423.9 389.9 L424.1 391.8 L424.3 393.8 L424.6 395.7 L424.9 397.7 L425.2 399.6 L425.5 401.5 L425.8 403.4 L426.2 405.2 L426.7 406.9 L427.2 408.6 L427.8 410.4 L428.5 412.1 L429.2 413.8 L430.0 415.5 L430.9 417.2 L431.8 418.8 L432.8 420.3 L433.9 421.8 L435.0 423.2 L436.2 424.6 L437.6 425.9 L438.9 427.2 L440.3 428.4 L441.7 429.6 L443.2 430.7 L444.7 431.8 L446.3 432.8 L447.9 433.7 L449.5 434.4 L451.2 435.1 L452.9 435.7 L454.6 436.2 L456.3 436.8 L457.9 437.2 L459.6 437.5 L461.3 437.6 L463.3 437.5 L464.4 437.4 L465.0 437.3 L466.3 436.2 L467.2 434.7 L467.9 433.2 L468.5 431.4 L468.9 429.5 L469.1 427.5 L469.1 425.5 L469.0 423.5 L468.9 421.5 L468.5 419.5 L468.1 417.7 L467.4 416.0 L466.7 414.4 L465.8 412.7 L464.8 410.9 L463.7 409.2 L462.7 407.5 L461.6 405.9 L460.5 404.2 L459.3 402.5 L458.1 400.7 L456.9 399.0 L455.8 397.2 L454.6 395.4 L453.5 393.6 L452.4 391.8 L451.2 390.0 L450.1 388.2 L449.1 386.4 L448.1 384.6 L447.1 382.8 L446.2 380.9 L445.3 378.9 L444.5 377.0 L443.7 375.0 L443.1 373.1 L442.5 371.2 L442.1 369.3 L441.7 367.3 L441.4 365.3 L441.2 363.3 L440.9 361.3 L440.6 359.3 L440.3 357.3 L439.9 355.3 L439.6 353.2 L439.2 351.1 L438.9 349.0 L438.6 347.0 L438.4 344.9 L438.3 342.9 L438.1 340.8 L438.1 338.7 L438.0 336.7 L438.0 334.6 L438.0 332.6 L438.0 330.6 L438.1 328.5 L438.1 326.4 L438.3 324.3 L438.4 322.3 L438.7 320.2 L438.9 318.2 L439.2 316.1 L439.6 314.1 L439.9 312.0 L440.4 310.0 L440.9 308.0 L441.4 306.0 L442.0 304.0 L442.7 302.1 L443.3 300.2 L444.0 298.3 L444.7 296.4 L445.5 294.5 L446.2 292.5 L446.9 290.6 L447.7 288.6 L448.5 286.7 L449.3 284.8 L450.1 282.9 L450.8 281.1 L451.6 279.2 L452.4 277.2 L453.2 275.2 L454.0 273.2 L454.7 271.3 L455.5 269.4 L456.4 267.6 L457.2 265.8 L458.0 264.1 L458.9 262.3 L459.6 260.4 L460.4 258.6 L461.0 256.7 L461.6 254.8 L462.2 252.9 L462.8 250.9 L463.4 248.9 L464.0 246.9 L464.6 244.9 L465.2 243.0 L465.8 241.0 L466.3 239.1 L466.9 237.2 L467.4 235.2 L467.8 233.3 L468.2 231.2 L468.5 229.1 L468.8 227.0 L469.0 224.9 L469.2 222.8 L469.4 220.7 L469.5 218.6 L469.5 216.4 L469.4 214.3 L469.2 212.2 L469.0 210.2 L468.5 208.1 L467.8 206.2 L466.9 204.4 L465.9 202.8 L464.6 201.3 L463.3 200.0 L462.8 199.7Z"/>
<path class="ln" d="M455.6 194.2 V198.4 M458 194.2 V198.6 M453 440.4 V436.4 M458.6 441.2 V437.2"/>
<ellipse class="ln" cx="295.6" cy="217.3" rx="4.4" ry="5.8"/>
<path class="ln" d="M297.2 212.1 A3.7 5.3 0 0 1 297.2 222.5"/>
<ellipse class="ln" cx="316.0" cy="243.8" rx="4.4" ry="5.8"/>
<path class="ln" d="M317.6 238.6 A3.7 5.3 0 0 1 317.6 249.0"/>
<ellipse class="ln" cx="458.1" cy="213.2" rx="4.4" ry="5.8"/>
<path class="ln" d="M459.7 208.0 A3.7 5.3 0 0 1 459.7 218.4"/>
<ellipse class="ln" cx="437.6" cy="240.1" rx="4.4" ry="5.8"/>
<path class="ln" d="M439.2 234.9 A3.7 5.3 0 0 1 439.2 245.3"/>
<ellipse class="ln" cx="315.6" cy="401.6" rx="4.4" ry="5.8"/>
<path class="ln" d="M317.2 396.4 A3.7 5.3 0 0 1 317.2 406.8"/>
<ellipse class="ln" cx="295.6" cy="428.5" rx="4.4" ry="5.8"/>
<path class="ln" d="M297.2 423.3 A3.7 5.3 0 0 1 297.2 433.7"/>
<ellipse class="ln" cx="437.5" cy="397.6" rx="4.4" ry="5.8"/>
<path class="ln" d="M439.1 392.4 A3.7 5.3 0 0 1 439.1 402.8"/>
<ellipse class="ln" cx="458.0" cy="423.4" rx="4.4" ry="5.8"/>
<path class="ln" d="M459.6 418.2 A3.7 5.3 0 0 1 459.6 428.6"/>
<rect class="ln" x="355.3" y="233.5" width="39.3" height="28.2" rx="2.5"/>
<path class="ln" d="M358 238.3 H389.5 Q392 238.3 392 236 M355.3 244.2 H394.6 M355.3 248 H394.6 M361.5 248 V261.3 M371.8 248 V261.3 M392.6 236 V260"/>
<rect class="ln" x="360.1" y="239.4" width="13.6" height="3.8" rx="0.6"/>
<path class="tk" d="M360.1 240.4 H373.7"/>
<ellipse class="ln" cx="357.6" cy="236.6" rx="1.4" ry="1.9"/>
<path class="ln" d="M339.3 276.7 L327.6 279.8 Q322 281.8 322.3 287 L333.4 363.5 Q334.5 369.2 339.8 370.2 L351.6 366.6 Z"/>
<path class="ln" d="M327.8 279.8 L341.1 369.6" style="stroke:#333;stroke-width:0.95"/>
<path class="ln" d="M335.4 277.7 L347.3 367.8"/>
<path class="ln" d="M410.9 274.1 L422.7 277.2 Q427.6 279 427.8 285.3 L416.9 359 Q416 365.6 410.5 365.9 L398.8 364.9 Z"/>
<path class="ln" d="M413.5 274.9 L401.4 365.1"/>
<path class="ln" d="M417.3 275.9 L405 365.4"/>
<path class="ln" d="M420.4 276.7 L408.3 365.7"/>
<path class="ln" d="M425.5 282.6 L414.3 362.4" style="stroke:#3a3a3a;stroke-width:0.85"/>
</g>
</svg>
</body></html>
